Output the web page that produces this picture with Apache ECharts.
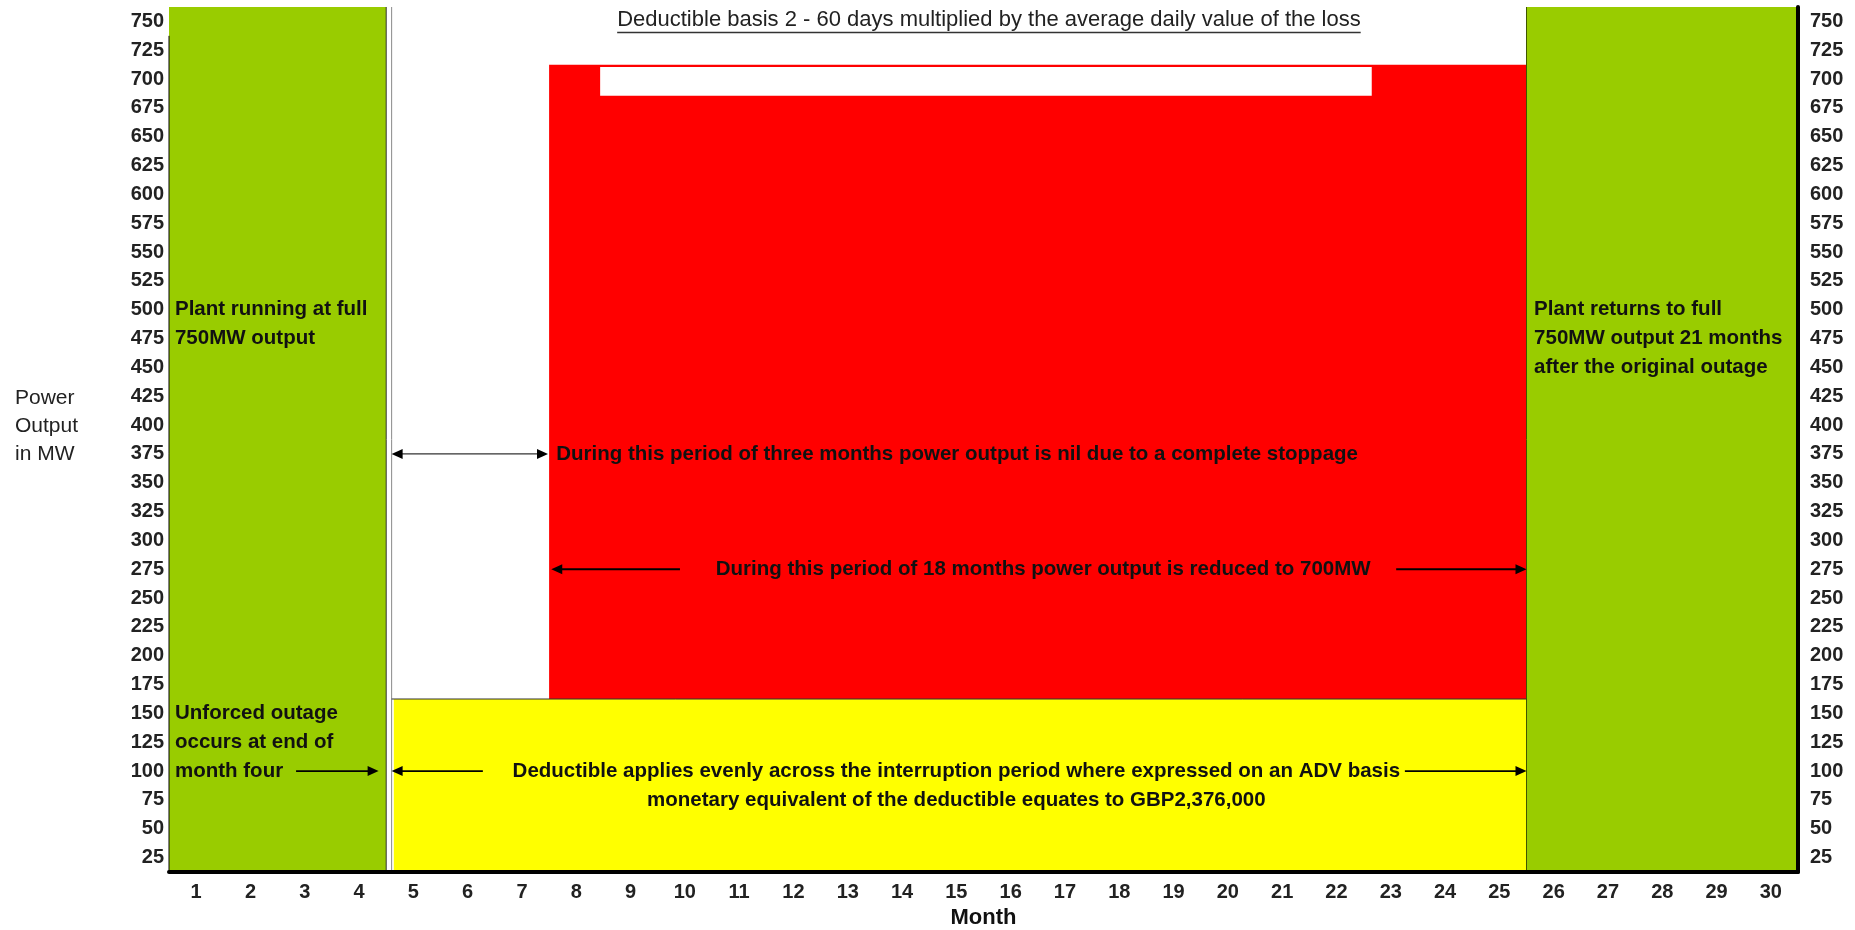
<!DOCTYPE html>
<html lang="en">
<head>
    <meta charset="UTF-8">
</head>
<style>
    html, body {
        width: 100%;
        height: 100%;
        margin: 0;
        background: #fff;
    }
</style>
<body>

<div id="main" style="width:1855px;height:930px;"></div>

<script src="https://cdn.jsdelivr.net/npm/echarts@6/dist/echarts.min.js" type="text/javascript"></script>

<script type="text/javascript">

    // tick labels
    const months = ['1', '2', '3', '4', '5', '6', '7', '8', '9', '10', '11', '12', '13', '14', '15',
        '16', '17', '18', '19', '20', '21', '22', '23', '24', '25', '26', '27', '28', '29', '30'];
    const mwLabels = ['25', '50', '75', '100', '125', '150', '175', '200', '225', '250', '275', '300',
        '325', '350', '375', '400', '425', '450', '475', '500', '525', '550', '575', '600', '625',
        '650', '675', '700', '725', '750'];

    // blocks: [from month, to month, from MW, to MW]
    const fullOutput = [[0, 4, 0, 750], [25, 30, 0, 750]];
    const reducedOutput = [[7, 25, 150, 700]];
    const deductibleBand = [[4.14, 25, 0, 150]];
    const blankBox = [[7.94, 22.15, 673, 698]];

    // rules: [x1, y1, x2, y2]
    const outageEdge = [[4, 0, 4, 750]];
    const outageEdge2 = [[4.1, 0, 4.1, 750]];
    const returnEdge = [[25, 0, 25, 750]];
    const deductibleLevel = [[4.1, 150, 25, 150]];
    const leftAxisLine = [[0, 0, 0, 725]];

    // arrows: [from month, to month, MW] (head at "to")
    const arrowsOneWay = [[2.34, 3.86, 87.5], [5.78, 4.1, 87.5], [22.76, 25, 87.5],
        [9.41, 7.04, 262.5], [22.6, 25, 262.5]];
    const arrowsTwoWay = [[4.1, 6.98, 362.5]];

    // notes
    const noteText = [
        'Plant running at full\n750MW output',
        'Plant returns to full\n750MW output 21 months\nafter the original outage',
        'Unforced outage\noccurs at end of\nmonth four',
        'During this period of three months power output is nil due to a complete stoppage',
        'During this period of 18 months power output is reduced to 700MW',
        'Deductible applies evenly across the interruption period where expressed on an ADV basis\nmonetary equivalent of the deductible equates to GBP2,376,000'
    ];
    const noteAt = [[0.11, 487.5], [25.14, 487.5], [0.11, 137.5], [7.13, 362.5], [16.1, 262.5], [14.5, 87.5]];
    const noteAlign = ['left', 'left', 'left', 'left', 'center', 'center'];

    const titleText = 'Deductible basis 2 - 60 days multiplied by the average daily value of the loss';
    const titleAt = [[15.1, 737.5]];

    const FONT = '"Liberation Sans", Arial, sans-serif';
    const NOTE_FONT = 'bold 20.5px ' + FONT;
    const TITLE_FONT = '22px ' + FONT;

    function blockItem(params, api) {
        let a = api.coord([api.value(0), api.value(3)]);
        let b = api.coord([api.value(1), api.value(2)]);
        return {
            type: 'rect',
            shape: {x: a[0], y: a[1], width: b[0] - a[0], height: b[1] - a[1]},
            style: {fill: api.visual('color')}
        };
    }

    function ruleItem(params, api) {
        let a = api.coord([api.value(0), api.value(1)]);
        let b = api.coord([api.value(2), api.value(3)]);
        return {
            type: 'line',
            shape: {x1: a[0], y1: a[1], x2: b[0], y2: b[1]},
            style: api.style({stroke: api.visual('color'), fill: null})
        };
    }

    function head(p, dir) {
        return {
            type: 'polygon',
            shape: {points: [[p[0], p[1]], [p[0] - dir * 11, p[1] - 5], [p[0] - dir * 11, p[1] + 5]]},
            style: {fill: '#000'}
        };
    }

    function arrowItem(both) {
        return function (params, api) {
            let a = api.coord([api.value(0), api.value(2)]);
            let b = api.coord([api.value(1), api.value(2)]);
            let dir = b[0] > a[0] ? 1 : -1;
            let kids = [{
                type: 'line',
                shape: {x1: both ? a[0] + dir * 10 : a[0], y1: a[1], x2: b[0] - dir * 10, y2: b[1]},
                style: {stroke: both ? '#333' : '#000', lineWidth: both ? 1.3 : 1.8}
            }, head(b, dir)];
            if (both) kids.push(head(a, -dir));
            return {type: 'group', children: kids};
        };
    }

    function noteItem(params, api) {
        let p = api.coord([api.value(0), api.value(1)]);
        let band = api.size([0, 25])[1];
        return {
            type: 'text',
            x: p[0],
            y: p[1] - band / 2,
            style: {
                text: noteText[params.dataIndex],
                fill: '#111',
                font: NOTE_FONT,
                lineHeight: band,
                align: noteAlign[params.dataIndex],
                verticalAlign: 'top'
            }
        };
    }

    let measure = document.createElement('canvas').getContext('2d');
    measure.font = TITLE_FONT;
    let titleWidth = measure.measureText(titleText).width;

    function titleItem(params, api) {
        let p = api.coord([api.value(0), api.value(1)]);
        return {
            type: 'group',
            children: [{
                type: 'text',
                x: p[0], y: p[1] - 1,
                style: {text: titleText, fill: '#222', font: TITLE_FONT, align: 'center', verticalAlign: 'middle'}
            }, {
                type: 'line',
                shape: {x1: p[0] - titleWidth / 2, y1: p[1] + 11, x2: p[0] + titleWidth / 2, y2: p[1] + 11},
                style: {stroke: '#333', lineWidth: 1.5}
            }]
        };
    }

    function custom(name, data, render, color, extra) {
        return Object.assign({
            name: name,
            type: 'custom',
            xAxisIndex: 1,
            yAxisIndex: 2,
            silent: true,
            renderItem: render,
            itemStyle: {color: color},
            data: data
        }, extra || {});
    }

    let myEcharts = echarts.init(document.getElementById('main'));

    let tickLabel = {fontFamily: FONT, fontWeight: 'bold', fontSize: 20, color: '#222', interval: 0};

    let option = {
        animation: false,
        grid: {left: 169, right: 57, top: 7, bottom: 58, outerBoundsMode: 'none'},
        xAxis: [
            {
                type: 'category',
                data: months,
                z: 10,
                name: 'Month',
                nameLocation: 'middle',
                nameGap: 35,
                nameTextStyle: {fontFamily: FONT, fontWeight: 'bold', fontSize: 22, color: '#111'},
                axisLine: {lineStyle: {color: '#000', width: 4}},
                axisTick: {show: false},
                axisLabel: Object.assign({margin: 10}, tickLabel)
            },
            {type: 'value', min: 0, max: 30, show: false}
        ],
        yAxis: [
            {
                type: 'category',
                data: mwLabels,
                position: 'left',
                axisLine: {show: false},
                axisTick: {show: false},
                axisLabel: Object.assign({margin: 5}, tickLabel)
            },
            {
                type: 'category',
                data: mwLabels,
                position: 'right',
                z: 10,
                axisLine: {lineStyle: {color: '#000', width: 4}},
                axisTick: {show: false},
                axisLabel: Object.assign({margin: 12}, tickLabel)
            },
            {type: 'value', min: 0, max: 750, show: false, position: 'left'}
        ],
        graphic: [{
            type: 'text',
            left: 15,
            top: 384,
            style: {text: 'Power\nOutput\nin MW', font: '21px ' + FONT, fill: '#222', lineHeight: 28}
        }],
        series: [
            custom('Full output', fullOutput, blockItem, '#99cc00'),
            custom('Reduced output', reducedOutput, blockItem, '#ff0000'),
            custom('Deductible', deductibleBand, blockItem, '#ffff00'),
            custom('Blank', blankBox, blockItem, '#ffffff'),
            custom('Outage edge', outageEdge, ruleItem, '#333333', {itemStyle: {color: '#333333', lineWidth: 2}}),
            custom('Outage edge 2', outageEdge2, ruleItem, '#8a8a8a', {itemStyle: {color: '#8a8a8a', lineWidth: 2.5}}),
            custom('Return edge', returnEdge, ruleItem, '#3f5500', {itemStyle: {color: '#3f5500', lineWidth: 3}}),
            custom('Deductible level', deductibleLevel, ruleItem, '#333333',
                {itemStyle: {color: '#333333', lineWidth: 2, lineDash: [14, 4, 3, 4]}}),
            custom('Left axis', leftAxisLine, ruleItem, '#000000', {z: 12, itemStyle: {color: '#000', lineWidth: 4}}),
            custom('Arrows', arrowsOneWay, arrowItem(false), '#000'),
            custom('Arrows both', arrowsTwoWay, arrowItem(true), '#000'),
            custom('Notes', noteAt, noteItem, '#111'),
            custom('Title', titleAt, titleItem, '#222')
        ]
    };

    myEcharts.setOption(option);

</script>
</body>
</html>
